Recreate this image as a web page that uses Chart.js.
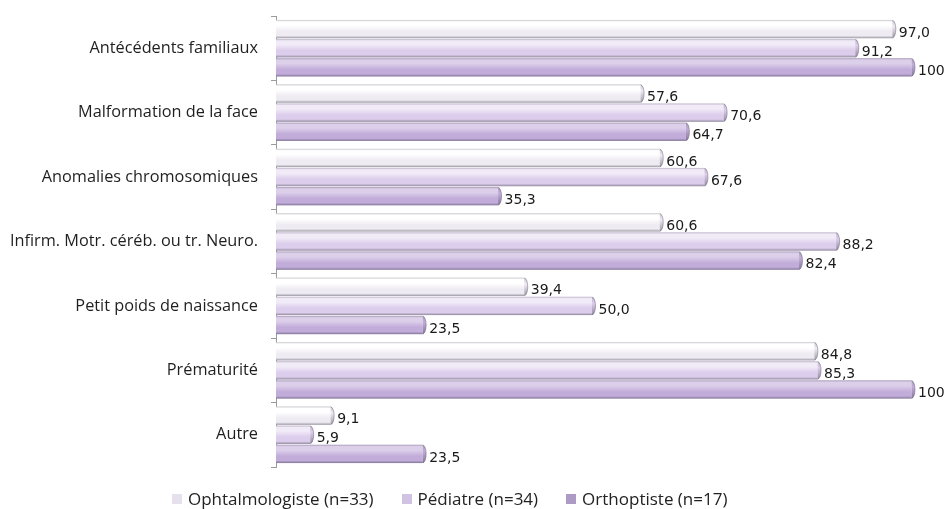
<!DOCTYPE html>
<html lang="fr">
<head>
<meta charset="utf-8">
<script src="https://cdn.jsdelivr.net/npm/chart.js@4"></script>
<style>
  html, body { margin: 0; padding: 0; background: #ffffff; }
  #wrap { position: relative; width: 950px; height: 509px; }
  #legend {
    position: absolute; left: 172px; top: 488px; height: 22px;
    display: flex; font-family: "Open Sans", Lato, sans-serif;
    font-size: 17px; line-height: 22px; color: #222; white-space: nowrap;
  }
  #legend .item { display: flex; align-items: center; margin-right: 28px; }
  #legend .box { width: 10px; height: 10px; margin-right: 6px; }
</style>
</head>
<body>
<div id="wrap">
  <canvas id="c" width="950" height="509"></canvas>
  <div id="legend"></div>
</div>
<script>
// Facteurs de risque cités, en % de répondants par profession
const categories = [
  'Antécédents familiaux',
  'Malformation de la face',
  'Anomalies chromosomiques',
  'Infirm. Motr. céréb. ou tr. Neuro.',
  'Petit poids de naissance',
  'Prématurité',
  'Autre'
];
const seriesNames = ['Ophtalmologiste (n=33)', 'Pédiatre (n=34)', 'Orthoptiste (n=17)'];
const ophtalmologiste = [97.0, 57.6, 60.6, 60.6, 39.4, 84.8, 9.1];
const pediatre        = [91.2, 70.6, 67.6, 88.2, 50.0, 85.3, 5.9];
const orthoptiste     = [100, 64.7, 35.3, 82.4, 23.5, 100, 23.5];
const valueLabels = [
  ['97,0', '57,6', '60,6', '60,6', '39,4', '84,8', '9,1'],
  ['91,2', '70,6', '67,6', '88,2', '50,0', '85,3', '5,9'],
  ['100', '64,7', '35,3', '82,4', '23,5', '100', '23,5']
];

// cylinder shading per series: edge, highlight, body, shadow
const palettes = [
  { edge: '#c9c6cc', light: '#ffffff', body: '#efebf3', dark: '#9d98a4', legend: '#e6e0ec' },
  { edge: '#bdb3c8', light: '#f1ebf8', body: '#dccdec', dark: '#928aa0', legend: '#cfc2e2' },
  { edge: '#a99bb8', light: '#dccfea', body: '#c2acd9', dark: '#83769a', legend: '#ad9bc6' }
];

const cylinderBars = {
  id: 'cylinderBars',
  afterDatasetsDraw(chart) {
    const ctx = chart.ctx;
    chart.data.datasets.forEach((ds, di) => {
      const meta = chart.getDatasetMeta(di);
      const p = palettes[di];
      meta.data.forEach((el, i) => {
        const { x, y, base, height } = el.getProps(['x', 'y', 'base', 'height'], true);
        const top = y - height / 2, h = height;
        const rx = 3.5;
        const g = ctx.createLinearGradient(0, top, 0, top + h);
        g.addColorStop(0, p.edge);
        g.addColorStop(0.1, p.light);
        g.addColorStop(0.3, p.light);
        g.addColorStop(0.62, p.body);
        g.addColorStop(0.86, p.body);
        g.addColorStop(1, p.dark);
        ctx.save();
        ctx.fillStyle = g;
        ctx.fillRect(base, top, Math.max(0, x - base - rx), h);
        // rounded end cap
        const gc = ctx.createLinearGradient(0, top, 0, top + h);
        gc.addColorStop(0, p.edge);
        gc.addColorStop(0.35, p.body);
        gc.addColorStop(1, p.dark);
        ctx.fillStyle = gc;
        ctx.beginPath();
        ctx.ellipse(x - rx, y, rx, h / 2, 0, -Math.PI / 2, Math.PI / 2);
        ctx.closePath();
        ctx.fill();
        ctx.strokeStyle = 'rgba(120,110,135,0.55)';
        ctx.lineWidth = 1;
        ctx.beginPath();
        ctx.ellipse(x - rx, y, rx, h / 2 - 0.5, 0, -Math.PI / 2, Math.PI / 2);
        ctx.stroke();
        // value label
        ctx.fillStyle = '#1a1a1a';
        ctx.font = '14px "DejaVu Sans", Verdana, sans-serif';
        ctx.textAlign = 'left';
        ctx.textBaseline = 'middle';
        ctx.fillText(valueLabels[di][i], x + 3, y + 4);
        ctx.restore();
      });
    });
  }
};

const datasets = [ophtalmologiste, pediatre, orthoptiste].map((vals, di) => ({
  label: seriesNames[di],
  data: vals,
  backgroundColor: 'rgba(0,0,0,0)',
  borderWidth: 0,
  categoryPercentage: 0.89,
  barPercentage: 0.96
}));

new Chart(document.getElementById('c'), {
  type: 'bar',
  data: { labels: categories, datasets },
  options: {
    indexAxis: 'y',
    responsive: false,
    animation: false,
    layout: { padding: { top: 16, right: 35, bottom: 42, left: 0 } },
    plugins: { legend: { display: false }, tooltip: { enabled: false } },
    scales: {
      x: { display: false, min: 0, max: 100 },
      y: {
        offset: true,
        afterFit(scale) {
          scale.width = 276;
          scale.paddingTop = 0;
          scale.paddingBottom = 0;
        },
        border: { display: true, color: '#9b9b9b', width: 1 },
        grid: { offset: true, drawOnChartArea: false, drawTicks: true, tickLength: 5, color: '#9b9b9b' },
        ticks: { padding: 13, color: '#1f1f1f', font: { family: '"Open Sans", Lato, sans-serif', size: 16.3 } }
      }
    }
  },
  plugins: [cylinderBars]
});

// legend below the plot
const legend = document.getElementById('legend');
seriesNames.forEach((name, di) => {
  const item = document.createElement('div');
  item.className = 'item';
  const box = document.createElement('span');
  box.className = 'box';
  box.style.background = palettes[di].legend;
  const txt = document.createElement('span');
  txt.textContent = name;
  item.appendChild(box);
  item.appendChild(txt);
  legend.appendChild(item);
});
</script>
</body>
</html>
